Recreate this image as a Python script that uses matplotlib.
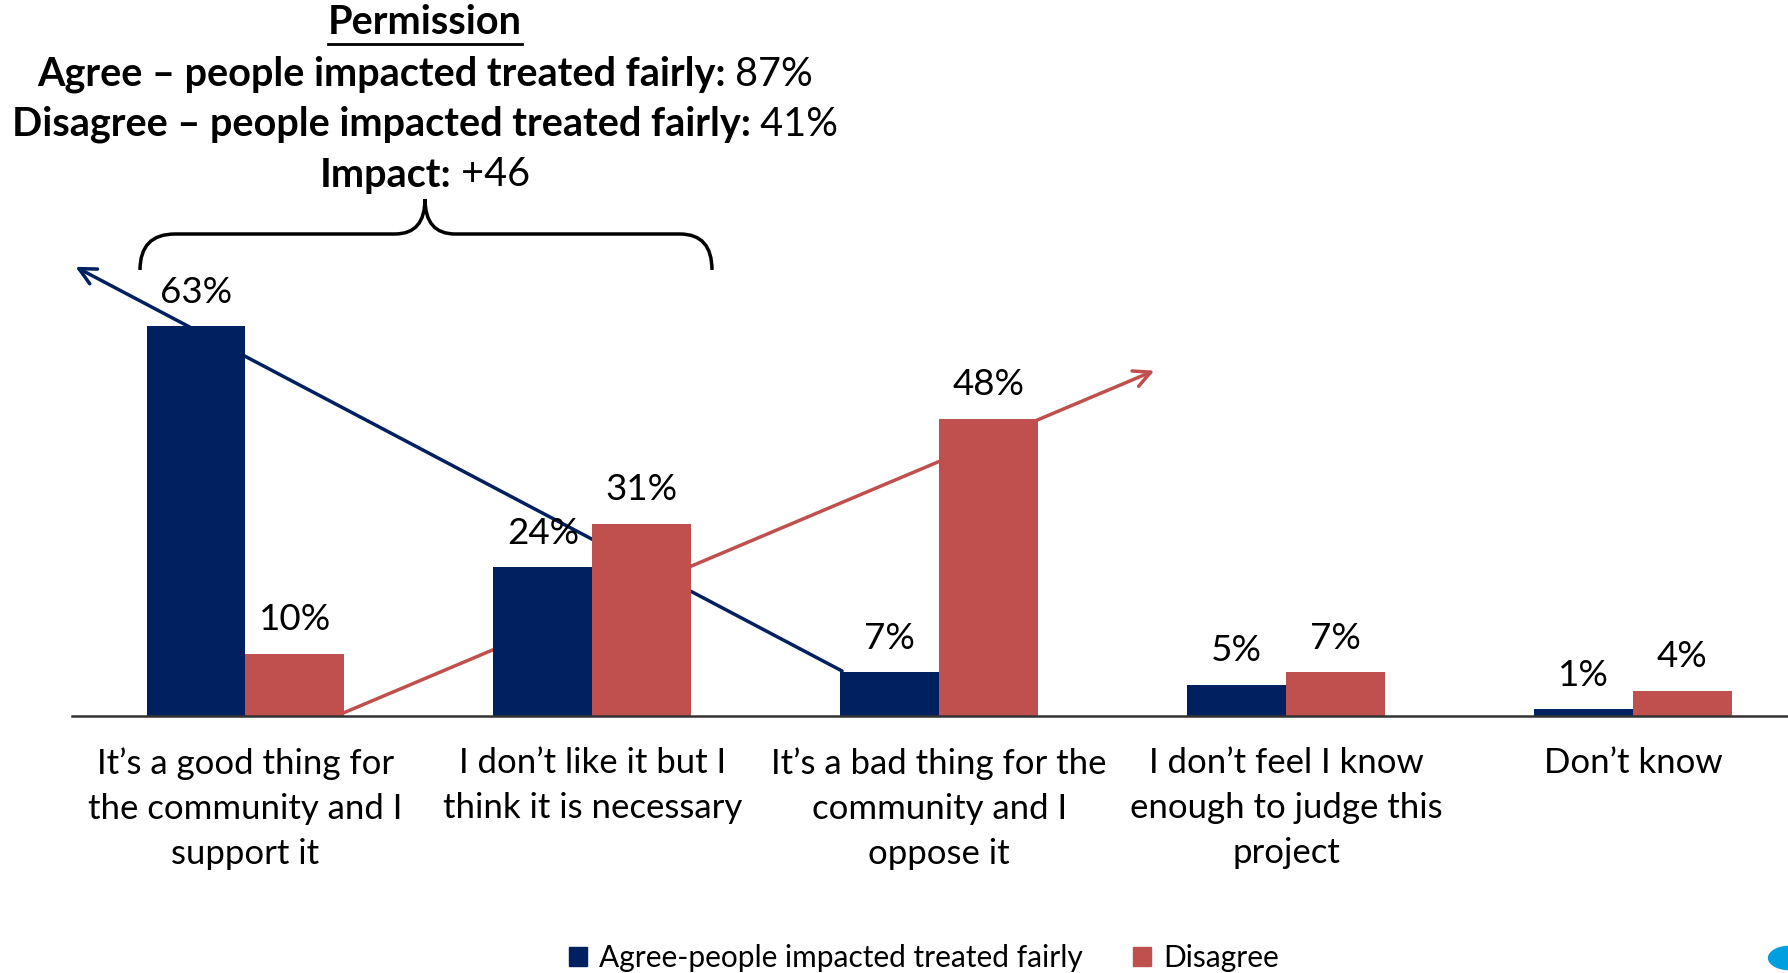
import numpy as np
import matplotlib
matplotlib.use("Agg")
import matplotlib.pyplot as plt
from matplotlib.path import Path
from matplotlib.patches import PathPatch, Patch, Circle

plt.rcParams['font.family'] = ['Lato', 'DejaVu Sans']

# # # # # data # # # # #
categories = ["It\u2019s a good thing for\nthe community and I\nsupport it",
              "I don\u2019t like it but I\nthink it is necessary",
              "It\u2019s a bad thing for the\ncommunity and I\noppose it",
              "I don\u2019t feel I know\nenough to judge this\nproject",
              "Don\u2019t know"]
agree = [63, 24, 7, 5, 1]
disagree = [10, 31, 48, 7, 4]
series_names = ["Agree-people impacted treated fairly", "Disagree"]

title_lines = [("Agree \u2013 people impacted treated fairly:", " 87%"),
               ("Disagree \u2013 people impacted treated fairly:", " 41%"),
               ("Impact:", " +46")]

BLUE = "#002060"
RED = "#C0504D"

W, H = 1788, 973
fig = plt.figure(figsize=(W/100, H/100), dpi=100)

def fx(px):
    return px / W

def fy(py):
    return 1 - py / H

# axes: zero line at y=715, 6.18 px per %
y0 = 715.5
ppp = 6.18
ymax = 70
ax = fig.add_axes([fx(72), fy(y0), 1 - fx(72), ymax*ppp/H])
ax.set_ylim(0, ymax)
ax.set_xlim(-0.5, 4.447)

x = np.arange(len(categories))
w = 0.285
ax.bar(x - w/2, agree, width=w, color=BLUE, zorder=3, label=series_names[0])
ax.bar(x + w/2, disagree, width=w, color=RED, zorder=3, label=series_names[1])

for xi, a, d in zip(x, agree, disagree):
    ax.annotate("%d%%" % a, (xi - w/2, a), xytext=(0, 17), textcoords="offset points",
                ha="center", va="baseline", fontsize=26.5)
    ax.annotate("%d%%" % d, (xi + w/2, d), xytext=(0, 17), textcoords="offset points",
                ha="center", va="baseline", fontsize=26.5)

# hand drawn trend arrows (behind the bars)
ax.annotate("", xy=(-0.49, 72.6), xytext=(1.72, 7.2),
            arrowprops=dict(arrowstyle="->", color=BLUE, lw=2.5, mutation_scale=30,
                            shrinkA=0, shrinkB=0), zorder=2, annotation_clip=False)
ax.annotate("", xy=(2.62, 55.8), xytext=(0.265, 0),
            arrowprops=dict(arrowstyle="->", color=RED, lw=2.5, mutation_scale=30,
                            shrinkA=0, shrinkB=0), zorder=2, annotation_clip=False)

ax.set_xticks(x)
ax.set_xticklabels(categories, fontsize=25, linespacing=1.5)
ax.tick_params(axis="x", length=0, pad=23)
ax.set_yticks([])
for s in ["top", "left", "right"]:
    ax.spines[s].set_visible(False)
ax.spines["bottom"].set_color("#333333")
ax.spines["bottom"].set_linewidth(1.8)
ax.spines["bottom"].set_zorder(4)

# # # # # title block # # # # #
cx = 425
t = fig.text(fx(cx), fy(23), "Permission", fontsize=28.5, fontweight="bold",
             ha="center", va="center")
fig.canvas.draw()
r = fig.canvas.get_renderer()
bb = t.get_window_extent(r)
fig.add_artist(plt.Line2D([bb.x0/W, bb.x1/W], [bb.y0/H - 0.003, bb.y0/H - 0.003],
                          color="black", lw=2, transform=fig.transFigure))

for (bold, plain), py in zip(title_lines, [74, 124, 175]):
    tb = fig.text(0, fy(py), bold, fontsize=28.5, fontweight="bold", va="center")
    tp = fig.text(0, fy(py), plain, fontsize=28.5, va="center")
    wb = tb.get_window_extent(r).width
    wp = tp.get_window_extent(r).width
    left = cx - (wb + wp) / 2
    tb.set_x(fx(left))
    tp.set_x(fx(left + wb))

# brace
verts = [(140, 270), (140, 234), (175, 234), (175, 234),
         (395, 234), (395, 234), (425, 234), (425, 199),
         (425, 234), (455, 234), (455, 234),
         (680, 234), (680, 234), (712, 234), (712, 270)]
codes = [Path.MOVETO, Path.CURVE3, Path.CURVE3, Path.LINETO,
         Path.LINETO, Path.LINETO, Path.CURVE3, Path.CURVE3,
         Path.CURVE3, Path.CURVE3, Path.LINETO,
         Path.LINETO, Path.LINETO, Path.CURVE3, Path.CURVE3]
verts = [(fx(a), fy(b)) for a, b in verts]
fig.add_artist(PathPatch(Path(verts, codes), fill=False, lw=2.5, color="black",
                         transform=fig.transFigure))

# legend
handles = [Patch(color=BLUE), Patch(color=RED)]
fig.legend(handles, series_names, loc="center", bbox_to_anchor=(fx(924), fy(958)),
           ncol=2, frameon=False, fontsize=21.5, handlelength=0.6, handleheight=0.6,
           handletextpad=0.4, columnspacing=1.7)

# logo fragment bottom right
fig.add_artist(Circle((fx(1790), fy(958)), 0.012, color="#00A0E0",
                      transform=fig.transFigure))

fig.savefig("out.png", dpi=100)
